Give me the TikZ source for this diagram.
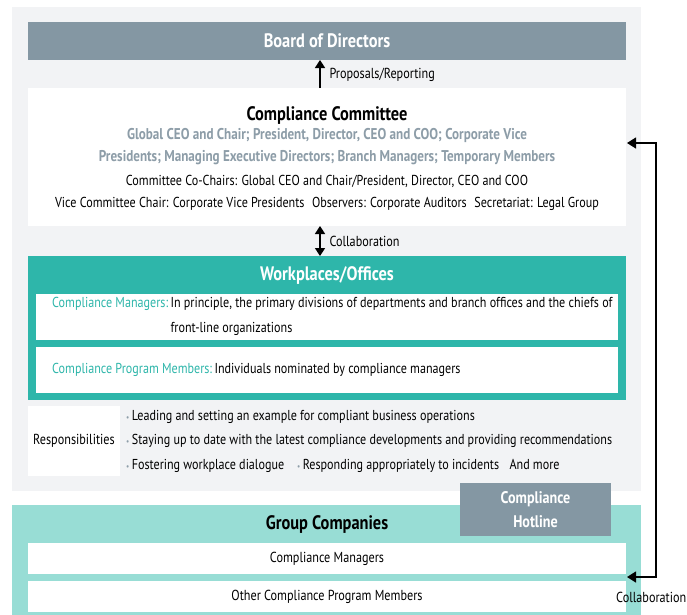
\documentclass[tikz,border=0pt]{standalone}
\usepackage{fontspec}
\setmainfont[FakeStretch=0.84]{PT Sans}
\usepackage{tikz}
\usetikzlibrary{arrows.meta,positioning,calc}
\definecolor{panelgrey}{HTML}{F2F3F5}
\definecolor{slate}{HTML}{8497A3}
\definecolor{wpteal}{HTML}{2EB6AA}
\definecolor{paleteal}{HTML}{98DDD5}
\definecolor{memgrey}{HTML}{8D9DA8}
\tikzset{
  box/.style={draw=none, inner sep=0pt, outer sep=0pt},
  head/.style={font=\fontsize{19.5}{22}\selectfont\bfseries},
  member/.style={font=\fontsize{15.6}{18}\selectfont\bfseries, text=memgrey},
  body/.style={font=\fontsize{14.4}{24.5}\selectfont},
  lbl/.style={font=\fontsize{14.5}{17}\selectfont},
  flow/.style={-{Triangle[length=8pt,width=10pt]}, line width=1.6pt},
  dflow/.style={{Triangle[length=8pt,width=10pt]}-{Triangle[length=8pt,width=10pt]}, line width=1.6pt},
  sflow/.style={{Triangle[length=9pt,width=11pt]}-{Triangle[length=9pt,width=11pt]}, line width=1.3pt}
}
\newcommand{\rbul}{\textcolor{memgrey}{\fontsize{8.5}{8.5}\selectfont\textbullet}\,}

\begin{document}
\begin{tikzpicture}[x=1pt, y=-1pt]
  \useasboundingbox (0,0) rectangle (687,614);
  % panels
  \node[box, fill=panelgrey, minimum width=629, minimum height=484] (panel) at (326.5,249) {};
  \node[box, fill=paleteal, minimum width=629, minimum height=114] (group) at (326.5,562) {};
  % board
  \node[box, fill=slate, minimum width=598, minimum height=38, text=white, head] (board) at (327,41) {Board of Directors};
  % committee
  \node[box, fill=white, minimum width=598, minimum height=138] (committee) at (327,157) {};
  \node[head] (cctitle) at (327,115) {Compliance Committee};
  \node[member] (ccmem1) at (327,135) {Global CEO and Chair; President, Director, CEO and COO; Corporate Vice};
  \node[member] (ccmem2) at (327,158) {Presidents; Managing Executive Directors; Branch Managers; Temporary Members};
  \node[body] (ccchair) at (327,181) {Committee Co-Chairs: Global CEO and Chair/President, Director, CEO and COO};
  \node[body] (ccvice) at (327,204) {Vice Committee Chair: Corporate Vice Presidents\hspace{0.3em} Observers: Corporate Auditors\hspace{0.3em} Secretariat: Legal Group};
  % workplaces
  \node[box, fill=wpteal, minimum width=598, minimum height=144] (workplaces) at (327,328) {};
  \node[head, text=white] (wptitle) at (327,275) {Workplaces/Offices};
  \node[box, fill=white, minimum width=582, minimum height=46] (wpmgr) at (327,317) {};
  \node[box, fill=white, minimum width=582, minimum height=46] (wpmem) at (327,370) {};
  \node[body, text=wpteal, anchor=west, inner sep=0pt] (mgrlbl) at (52,304) {Compliance Managers:};
  \node[body, anchor=north west, align=left, inner sep=0pt] (mgrtxt) at ([xshift=2pt]mgrlbl.north east)
    {In principle, the primary divisions of departments and branch offices and the chiefs of\\front-line organizations};
  \node[body, text=wpteal, anchor=west, inner sep=0pt] (memlbl) at (52,370) {Compliance Program Members:};
  \node[body, anchor=west, inner sep=0pt] (memtxt) at ([xshift=2pt]memlbl.east) {Individuals nominated by compliance managers};
  % responsibilities
  \node[box, fill=white, minimum width=92, minimum height=70, lbl] (resp) at (74,441) {Responsibilities};
  \node[body, anchor=west, align=left, inner sep=0pt] (resplist) at (126,441)
    {\rbul Leading and setting an example for compliant business operations\\
     \rbul Staying up to date with the latest compliance developments and providing recommendations\\
     \rbul Fostering workplace dialogue\hspace{0.9em}\rbul Responding appropriately to incidents\hspace{0.5em} And more};
  % group companies
  \node[head] (gctitle) at (327,524) {Group Companies};
  \node[box, fill=white, minimum width=598, minimum height=31, lbl] (gcmgr) at (327,558.5) {Compliance Managers};
  \node[box, fill=white, minimum width=598, minimum height=31, lbl] (gcother) at (327,596.5) {Other Compliance Program Members};
  \node[box, fill=slate, minimum width=151, minimum height=53, text=white, align=center,
    font=\fontsize{16.8}{24}\selectfont\bfseries] (hotline) at (535.5,509.5) {Compliance\\Hotline};
  % connectors
  \coordinate (ax) at (320,0);
  \draw[flow] (ax |- committee.north) -- (ax |- board.south);
  \node[lbl, anchor=west] (proprep) at (326,75) {Proposals/Reporting};
  \draw[dflow] (ax |- committee.south) -- (ax |- workplaces.north);
  \node[lbl, anchor=west] (collab) at (326,241) {Collaboration};
  \coordinate (tipA) at (627,143);
  \coordinate (tipB) at (627,577);
  \draw[sflow] (tipA) -- ++(29,0) |- (tipB);
  \node[lbl, anchor=east, inner sep=0.5pt] (collabr) at (687,597) {Collaboration};
\end{tikzpicture}
\end{document}
